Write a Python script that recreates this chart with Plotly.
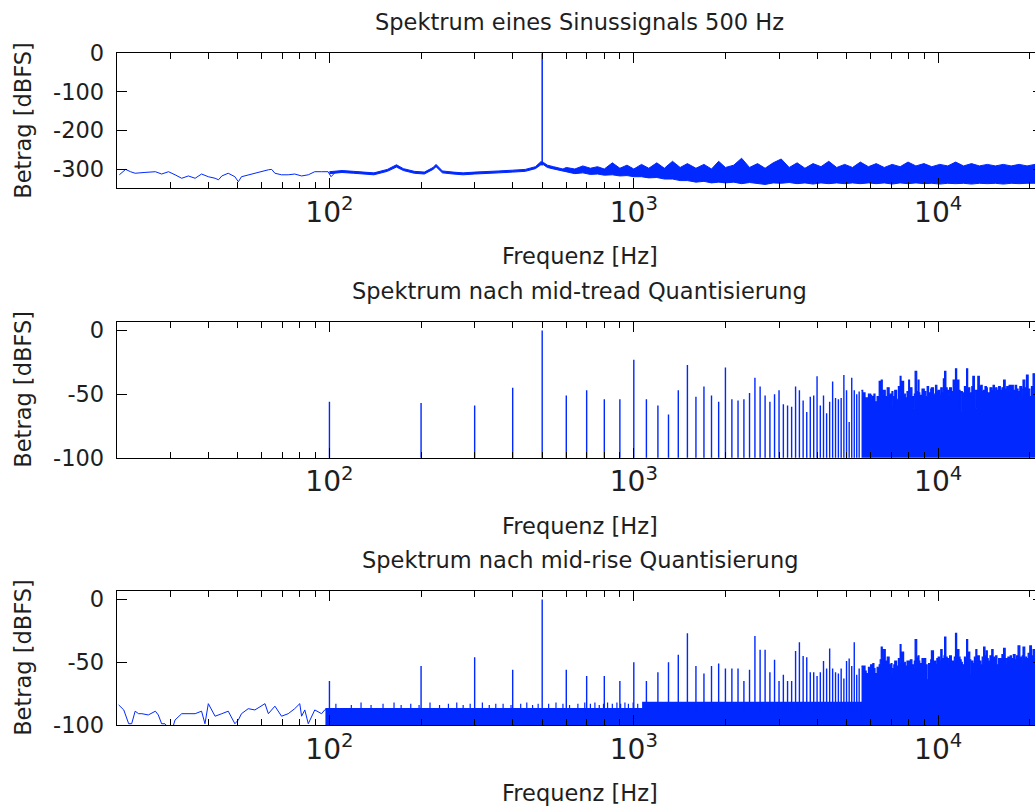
import math
import plotly.graph_objects as go

# ---------------- data ----------------
title_texts = ["Spektrum eines Sinussignals 500 Hz",
               "Spektrum nach mid-tread Quantisierung",
               "Spektrum nach mid-rise Quantisierung"]
x_label = "Frequenz [Hz]"
y_label = "Betrag [dBFS]"

freq_min, freq_max = 20, 22050

top_ytickvals = [0, -100, -200, -300]
top_yticktext = ["0", "-100", "-200", "-300"]
q_ytickvals = [0, -50, -100]
q_yticktext = ["0", "-50", "-100"]

# --- plot 1: unquantised sine, numeric noise floor ---
top_lf_freq = [20.4, 21.4, 22.2, 23.0, 24.6, 26.8, 28.1, 29.6, 31.1, 32.7, 34.4, 36.2, 38.0,
               40.0, 42.1, 43.2, 44.3, 46.5, 48.9, 50.2, 51.4, 54.1, 56.9, 59.8, 63.0, 64.6,
               66.2, 69.6, 73.2, 76.9, 81.0, 85.2, 89.5, 94.2, 99.0, 101.2, 103.8]
top_lf_db = [-315, -301, -307, -311, -309, -307, -313, -307, -315, -324, -318, -324, -313,
             -320, -324, -328, -318, -311, -320, -333, -320, -315, -311, -307, -302, -301,
             -311, -315, -315, -313, -318, -315, -307, -307, -307, -320, -311]

top_band_freq = [100, 110, 120, 130, 140, 155, 166, 175, 190, 205, 219, 224, 235, 255, 275,
                 300, 330, 360, 400, 440, 475, 495, 505, 520, 545, 585,
                 600, 640, 680, 720, 760, 800, 850, 900, 950, 1000, 1060, 1120, 1190, 1260,
                 1340, 1420, 1500, 1600, 1700, 1800, 1900, 2000, 2130, 2260, 2400, 2550,
                 2700, 2870, 3050, 3240, 3440, 3650, 3880, 4120, 4370, 4640, 4930, 5230,
                 5550, 5900, 6260, 6650, 7060, 7500, 7960, 8450, 8980, 9530, 10120, 10750,
                 11410, 12120, 12870, 13660, 14510, 15410, 16360, 17370, 18450, 19590,
                 20800, 22050]
top_band_high = [-307, -304, -306, -309, -310, -301, -289, -299, -306, -308, -296, -288, -305,
                 -308, -310, -308, -307, -305, -303, -301, -294, -281, -283, -290, -294, -300,
                 -296, -300, -292, -298, -294, -300, -284, -298, -290, -300, -288, -298, -284,
                 -298, -280, -296, -286, -298, -288, -300, -280, -296, -290, -272, -296, -286,
                 -298, -284, -274, -296, -284, -298, -286, -294, -280, -296, -288, -296, -282,
                 -294, -286, -296, -288, -294, -282, -292, -286, -294, -288, -292, -282, -292,
                 -286, -292, -288, -292, -288, -292, -288, -292, -288, -292]
top_band_low = [-312, -309, -311, -314, -315, -306, -295, -304, -311, -313, -301, -294, -310,
                -313, -315, -313, -312, -310, -308, -306, -299, -289, -289, -296, -300, -306,
                -308, -312, -310, -314, -313, -316, -315, -318, -317, -320, -320, -323, -322,
                -326, -326, -330, -330, -334, -332, -336, -334, -336, -334, -338, -335, -337,
                -340, -336, -337, -335, -338, -336, -339, -336, -338, -336, -338, -336, -338,
                -336, -338, -336, -339, -336, -338, -336, -338, -337, -339, -337, -338, -337,
                -339, -337, -338, -337, -339, -337, -338, -337, -338, -337]
top_peak_freq = [500]
top_peak_db = [0]
top_peak_foot_db = -290

# --- harmonics every 100 Hz (both quantised spectra) ---
harm_freq = [100, 200, 300, 400, 500, 600, 700, 800, 900, 1000, 1100, 1200, 1300, 1400,
             1500, 1600, 1700, 1800, 1900, 2000, 2100, 2200, 2300, 2400, 2500, 2600, 2700,
             2800, 2900, 3000, 3100, 3200, 3300, 3400, 3500, 3600, 3700, 3800, 3900, 4000,
             4100, 4200, 4300, 4400, 4500, 4600, 4700, 4800, 4900, 5000, 5100, 5200, 5300,
             5400, 5500]

# --- plot 2: mid-tread ---
mt_harm_db = [-56, -57, -59, -45, 0, -51, -47, -54, -54, -23, -54, -59, -66, -47, -27, -52,
              -44, -51, -56, -29, -54, -55, -54, -49, -37, -44, -51, -56, -50, -47, -58, -59,
              -60, -44, -47, -55, -64, -52, -51, -36, -59, -51, -65, -56, -40, -53, -54, -53,
              -35, -47, -72, -37, -47, -50, -48]

env_freq = [5600, 5650, 5700, 5750, 5800, 5900, 6000, 6050, 6100, 6150,
            6200, 6300, 6400, 6450, 6500, 6550, 6600, 6700, 6800, 6900,
            7000, 7050, 7100, 7150, 7200, 7300, 7400, 7450, 7500, 7550,
            7600, 7700, 7800, 7900, 8000, 8050, 8100, 8200, 8300, 8350,
            8400, 8500, 8600, 8650, 8700, 8850, 9000, 9100, 9200, 9300,
            9400, 9450, 9500, 9650, 9800, 9900, 10000, 10100, 10200, 10300,
            10400, 10450, 10500, 10600, 10700, 10800, 10900, 11050, 11200, 11300,
            11400, 11500, 11600, 11700, 11800, 11900, 12000, 12200, 12400, 12500,
            12600, 12700, 12800, 12900, 13000, 13150, 13300, 13400, 13500, 13650,
            13800, 13950, 14100, 14250, 14400, 14500, 14600, 14800, 15000, 15150,
            15300, 15450, 15600, 15800, 16000, 16200, 16400, 16600, 16800, 16950,
            17100, 17250, 17400, 17650, 17900, 18100, 18300, 18550, 18800, 18900,
            19000, 19250, 19500, 19750, 20000, 20250, 20500, 20750, 21000, 21250,
            21500, 21750, 22050]
mt_env_db = [-47, -52, -49, -55, -53, -50, -51, -55, -52, -50,
             -56, -52, -40, -48, -39, -50, -47, -52, -45, -50,
             -52, -48, -60, -52, -47, -54, -44, -50, -36, -48,
             -40, -50, -53, -48, -39, -50, -45, -52, -61, -50,
             -32, -48, -39, -49, -51, -46, -48, -52, -44, -49,
             -51, -46, -45, -50, -43, -48, -47, -50, -45, -49,
             -38, -46, -32, -45, -47, -50, -45, -48, -39, -47,
             -30, -45, -39, -47, -64, -48, -49, -44, -30, -46,
             -45, -49, -49, -44, -36, -47, -61, -47, -36, -44,
             -43, -48, -47, -44, -45, -49, -49, -45, -47, -43,
             -48, -45, -47, -44, -47, -45, -39, -46, -44, -48,
             -43, -46, -43, -47, -43, -46, -48, -44, -51, -46,
             -39, -45, -35, -46, -52, -44, -34, -44, -45, -42,
             -40, -46, -42]

# --- plot 3: mid-rise ---
mr_lf_freq = [20.3, 21.1, 21.9, 22.4, 23.0, 23.6, 24.2, 25.4, 26.8, 27.4, 28.1, 28.8, 30.3,
              31.1, 32.7, 34.4, 36.2, 38.0, 39.0, 40.0, 41.0, 42.1, 44.3, 46.5, 48.9, 50.2,
              51.4, 54.1, 56.9, 59.8, 61.4, 63.0, 66.2, 69.6, 73.2, 76.9, 79.9, 81.0, 83.0,
              85.2, 89.5, 94.2, 96.5, 100]
mr_lf_db = [-84, -88, -99, -99, -89, -91, -91, -92, -89, -92, -99, -99, -105, -96, -91, -91,
            -91, -89, -99, -83, -88, -93, -91, -89, -99, -96, -91, -87, -88, -85, -83, -91,
            -85, -93, -91, -87, -83, -93, -88, -99, -88, -91, -88, -87]

mr_floor_freq = [97, 1070, 22050]
mr_floor_db = [-87, -82, -82]
mr_small_freq = [105, 118, 127, 137, 150, 163, 172, 185, 197, 214, 230, 246, 262, 275, 290,
                 318, 335, 352, 372, 395, 425, 445, 465, 485, 525, 555, 585, 615, 655, 690,
                 720, 745, 770, 795, 820, 850, 880, 905, 935, 960, 995, 1030]
mr_small_db = [-83, -84, -82, -84, -83, -82, -84, -83, -84, -82, -84, -83, -82, -84, -83,
               -82, -84, -83, -83, -84, -83, -82, -84, -83, -83, -82, -83, -84, -83, -82,
               -83, -82, -84, -83, -82, -83, -82, -83, -82, -83, -82, -83]
mr_harm_db = [-65, -53, -46, -56, 0, -56, -61, -61, -65, -50, -65, -58, -50, -44, -27, -53,
              -59, -53, -51, -55, -55, -55, -65, -56, -29, -40, -40, -58, -48, -65, -60, -65,
              -65, -41, -34, -45, -46, -58, -58, -61, -58, -49, -55, -39, -55, -58, -59, -55,
              -63, -49, -47, -53, -34, -60, -55]
mr_env_db = [-53, -56, -53, -57, -59, -54, -52, -56, -51, -55,
             -59, -54, -52, -48, -38, -46, -40, -49, -46, -52,
             -51, -55, -59, -52, -49, -53, -47, -51, -36, -47,
             -42, -50, -53, -49, -53, -49, -48, -52, -55, -49,
             -32, -46, -45, -49, -51, -47, -47, -52, -64, -51,
             -55, -48, -41, -49, -52, -47, -46, -49, -40, -47,
             -48, -45, -30, -46, -51, -47, -45, -49, -51, -46,
             -27, -44, -40, -46, -48, -50, -52, -46, -32, -44,
             -42, -48, -60, -49, -51, -46, -40, -47, -45, -49,
             -52, -46, -38, -45, -41, -47, -49, -45, -40, -46,
             -48, -45, -52, -47, -47, -44, -39, -47, -51, -46,
             -48, -45, -47, -44, -48, -45, -37, -46, -51, -45,
             -38, -46, -47, -43, -37, -45, -40, -46, -45, -41,
             -40, -45, -43]

fill_base_db = -130  # below the visible range; fills are clipped by the axes

# ---------------- styling / layout ----------------
BLUE = "rgb(0,40,255)"
TXT = "#1e1e1e"
FONT = "DejaVu Sans"
FS = 22.5
W, H = 1050, 810

x_dom = [116.7 / W, 1042.7 / W]
y_doms = [[1 - 188.3 / H, 1 - 53.3 / H],
          [1 - 457.7 / H, 1 - 321.7 / H],
          [1 - 725.0 / H, 1 - 590.7 / H]]
y_ranges = [[-350, 0], [-100, 7], [-100, 7]]


def vseg(freqs, tops, floor):
    xs, ys = [], []
    for f, v in zip(freqs, tops):
        xs += [f, f, None]
        ys += [floor, v, None]
    return xs, ys


fig = go.Figure()
line = dict(color=BLUE, width=1.0)

# plot 1
fig.add_trace(go.Scatter(x=top_lf_freq, y=top_lf_db, mode="lines", line=line,
                         xaxis="x", yaxis="y"))
fig.add_trace(go.Scatter(x=top_band_freq, y=top_band_low, mode="lines", line=line,
                         xaxis="x", yaxis="y"))
fig.add_trace(go.Scatter(x=top_band_freq, y=top_band_high, mode="lines", line=line,
                         fill="tonexty", fillcolor=BLUE, xaxis="x", yaxis="y"))
px, py = vseg(top_peak_freq, top_peak_db, top_peak_foot_db)
fig.add_trace(go.Scatter(x=px, y=py, mode="lines", line=dict(color=BLUE, width=1.5),
                         xaxis="x", yaxis="y"))

# plot 2
hx, hy = vseg(harm_freq, mt_harm_db, fill_base_db)
fig.add_trace(go.Scatter(x=hx, y=hy, mode="lines", line=dict(color=BLUE, width=1.4),
                         xaxis="x2", yaxis="y2"))
fig.add_trace(go.Scatter(x=[env_freq[0], env_freq[-1]], y=[fill_base_db, fill_base_db],
                         mode="lines", line=dict(width=0, color=BLUE),
                         xaxis="x2", yaxis="y2"))
fig.add_trace(go.Scatter(x=env_freq, y=mt_env_db, mode="lines",
                         line=dict(color=BLUE, width=1.2, shape="hv"),
                         fill="tonexty", fillcolor=BLUE, xaxis="x2", yaxis="y2"))

# plot 3
fig.add_trace(go.Scatter(x=mr_lf_freq, y=mr_lf_db, mode="lines", line=line,
                         xaxis="x3", yaxis="y3"))
fig.add_trace(go.Scatter(x=[mr_floor_freq[0], mr_floor_freq[-1]],
                         y=[fill_base_db, fill_base_db], mode="lines",
                         line=dict(width=0, color=BLUE), xaxis="x3", yaxis="y3"))
fig.add_trace(go.Scatter(x=mr_floor_freq, y=mr_floor_db, mode="lines",
                         line=dict(color=BLUE, width=1.2, shape="hv"),
                         fill="tonexty", fillcolor=BLUE, xaxis="x3", yaxis="y3"))
sx, sy = vseg(mr_small_freq, mr_small_db, -90)
fig.add_trace(go.Scatter(x=sx, y=sy, mode="lines", line=dict(color=BLUE, width=1.2),
                         xaxis="x3", yaxis="y3"))
hx3, hy3 = vseg(harm_freq, mr_harm_db, -90)
fig.add_trace(go.Scatter(x=hx3, y=hy3, mode="lines", line=dict(color=BLUE, width=1.4),
                         xaxis="x3", yaxis="y3"))
fig.add_trace(go.Scatter(x=[env_freq[0], env_freq[-1]], y=[fill_base_db, fill_base_db],
                         mode="lines", line=dict(width=0, color=BLUE),
                         xaxis="x3", yaxis="y3"))
fig.add_trace(go.Scatter(x=env_freq, y=mr_env_db, mode="lines",
                         line=dict(color=BLUE, width=1.2, shape="hv"),
                         fill="tonexty", fillcolor=BLUE, xaxis="x3", yaxis="y3"))

tickfont = dict(family=FONT, size=FS, color=TXT)
layout = dict(template="none", width=W, height=H, margin=dict(l=0, r=0, t=0, b=0),
              paper_bgcolor="white", plot_bgcolor="white", showlegend=False,
              font=dict(family=FONT, size=FS, color=TXT))
annotations = []
for i in range(3):
    sfx = "" if i == 0 else str(i + 1)
    layout["xaxis" + sfx] = dict(
        type="log", domain=x_dom, anchor="y" + sfx, automargin=False,
        range=[math.log10(freq_min), math.log10(freq_max)],
        dtick=1, exponentformat="power", showexponent="all",
        showline=True, linecolor="black", linewidth=1, mirror="ticks",
        ticks="inside", ticklen=10, tickwidth=1, tickcolor="black",
        showgrid=False, zeroline=False, tickfont=tickfont,
        minor=dict(ticks="inside", ticklen=6, tickwidth=1, tickcolor="black",
                   dtick="D1", showgrid=False),
    )
    yv = top_ytickvals if i == 0 else q_ytickvals
    yt = top_yticktext if i == 0 else q_yticktext
    layout["yaxis" + sfx] = dict(
        domain=y_doms[i], anchor="x" + sfx, range=y_ranges[i], automargin=False,
        tickmode="array", tickvals=yv, ticktext=yt, ticklabelstandoff=7,
        showline=True, linecolor="black", linewidth=1, mirror="ticks",
        ticks="inside", ticklen=10, tickwidth=1, tickcolor="black",
        showgrid=False, zeroline=False, tickfont=tickfont,
    )
    xc = (x_dom[0] + x_dom[1]) / 2
    annotations.append(dict(text=title_texts[i], x=xc, y=y_doms[i][1], xref="paper",
                            yref="paper", xanchor="center", yanchor="middle", yshift=31,
                            showarrow=False, font=dict(family=FONT, size=FS, color=TXT)))
    annotations.append(dict(text=x_label, x=xc, y=y_doms[i][0], xref="paper",
                            yref="paper", xanchor="center", yanchor="middle", yshift=-68,
                            showarrow=False, font=dict(family=FONT, size=FS, color=TXT)))
    annotations.append(dict(text=y_label, x=23 / W, y=sum(y_doms[i]) / 2, xref="paper",
                            yref="paper", xanchor="center", yanchor="middle", textangle=-90,
                            showarrow=False, font=dict(family=FONT, size=FS, color=TXT)))
layout["annotations"] = annotations
fig.update_layout(**layout)

fig.write_html("out.html", post_script=(
    "document.documentElement.style.overflow='hidden';"
    "document.body.style.overflow='hidden';document.body.style.margin='0';"))
